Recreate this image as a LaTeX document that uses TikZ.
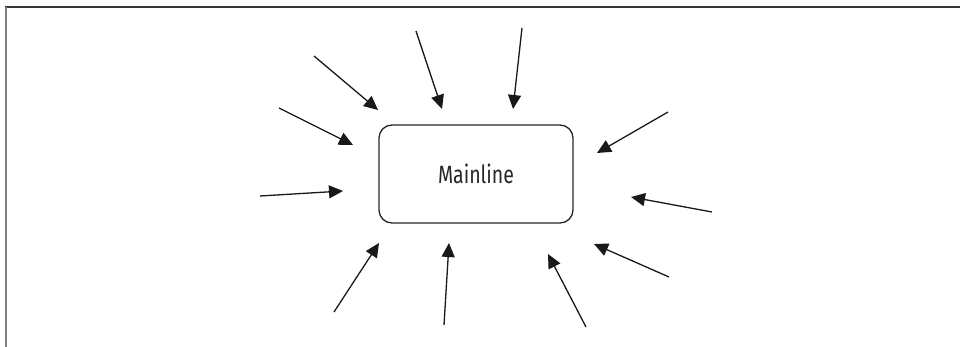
\documentclass[tikz,border=0pt]{standalone}
\usepackage{fontspec}
\newfontfamily\boxfont[FakeStretch=0.78]{Fira Sans}
\usetikzlibrary{arrows.meta}
\begin{document}
\begin{tikzpicture}[x=1pt,y=-1pt,
  feed/.style={line width=1.3pt,draw=black!90,
    -{Triangle[length=14pt,width=13pt]}},
  mainbox/.style={draw=black!85,line width=1.3pt,rounded corners=13pt,
    minimum width=194pt,minimum height=98pt,inner sep=0pt,
    font=\boxfont\fontsize{25}{28}\selectfont,text=black!85}]
\useasboundingbox (0,0) rectangle (960,347);
% frame edges
\draw[black!80,line width=1.6pt] (5,7) -- (960,7);
\draw[black!50,line width=2pt] (6,7) -- (6,347);
% central box
\node[mainbox] (main) at (476,174) {Mainline};
% incoming feeds: start and tip points
\coordinate (s1) at (314,56);  \coordinate (t1) at (378,110);
\coordinate (s2) at (279,108); \coordinate (t2) at (353,145);
\coordinate (s3) at (260,196); \coordinate (t3) at (343,191);
\coordinate (s4) at (416,31);  \coordinate (t4) at (442,109);
\coordinate (s5) at (522,28);  \coordinate (t5) at (513,109);
\coordinate (s6) at (668,112); \coordinate (t6) at (597,153);
\coordinate (s7) at (712,212); \coordinate (t7) at (631,197);
\coordinate (s8) at (669,277); \coordinate (t8) at (594,244);
\coordinate (s9) at (586,327); \coordinate (t9) at (548,254);
\coordinate (s10) at (444,325); \coordinate (t10) at (449,243);
\coordinate (s11) at (334,312); \coordinate (t11) at (379,243);
\foreach \i in {1,...,11}{\draw[feed] (s\i) -- (t\i);}
\end{tikzpicture}
\end{document}
